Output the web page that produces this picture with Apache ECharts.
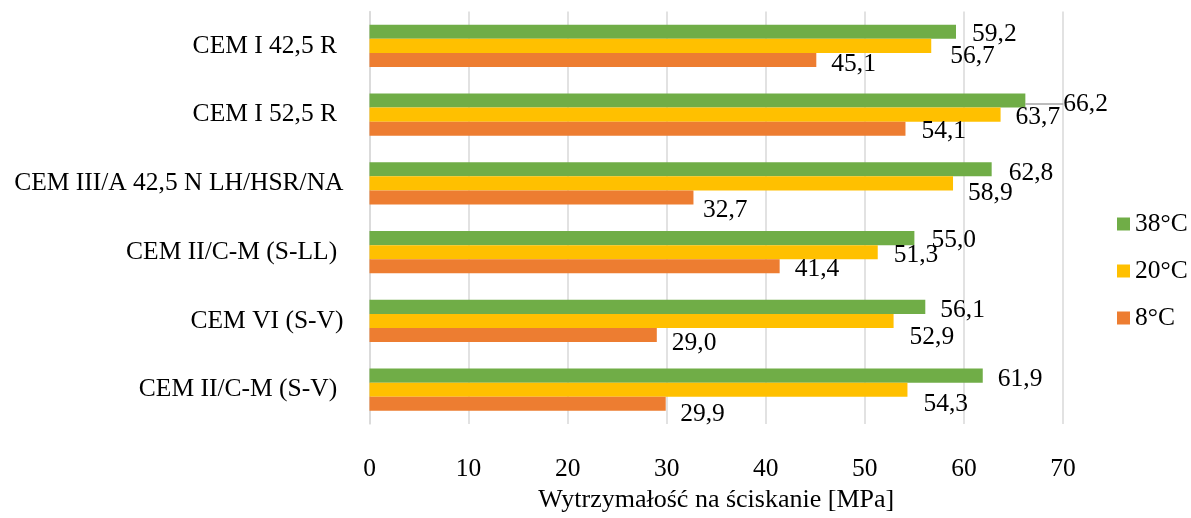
<!DOCTYPE html>
<html>
<head>
<meta charset="utf-8">
<script src="https://cdn.jsdelivr.net/npm/echarts@6/dist/echarts.min.js"></script>
<style>
  html, body { margin: 0; padding: 0; background: #fff; }
  #chart { width: 1191px; height: 518px; }
</style>
</head>
<body>
<div id="chart"></div>
<script>
// Cement types, top to bottom
const categories = [
  'CEM I 42,5 R ',
  'CEM I 52,5 R ',
  'CEM III/A 42,5 N LH/HSR/NA',
  'CEM II/C-M (S-LL) ',
  'CEM VI (S-V)',
  'CEM II/C-M (S-V) '
];

// Compressive strength [MPa] per curing temperature
const seriesNames = ['38°C', '20°C', '8°C'];
const values38 = [59.2, 66.2, 62.8, 55.0, 56.1, 61.9];
const values20 = [56.7, 63.7, 58.9, 51.3, 52.9, 54.3];
const values8  = [45.1, 54.1, 32.7, 41.4, 29.0, 29.9];

const xTicks = { min: 0, max: 70, interval: 10 };
const axisTitle = 'Wytrzymałość na ściskanie [MPa]';

// Label placement tweaks (pixel shifts from the bar end), one row per series
const labelShift = [
  [[16, 1], [38, 2], [17, 2], [17, 1], [15, 2], [15, 2]],
  [[19, 9], [15, 1.5], [15, 8], [16, 1.5], [16, 14.5], [16, 13.5]],
  [[15, 3], [16, 1], [9.5, 11], [15, 2], [15, 7], [14.5, 9]]
];
const labelBaseDy = 1.5;
// data points whose label is tied to its bar with a short guide line
const guided = [[0, 1]];

const colors = ['#70AD47', '#FFC000', '#ED7D31'];
const font = 'Liberation Serif, Times New Roman, serif';
const fontSize = 25.5;
const allValues = [values38, values20, values8];

const fmt = v => v.toFixed(1).replace('.', ',');

const series = allValues.map((vals, s) => ({
  name: seriesNames[s],
  type: 'bar',
  barGap: '0%',
  barCategoryGap: '38.5%',
  itemStyle: { color: colors[s] },
  data: vals.map((v, i) => {
    const item = { value: v };
    if (guided.some(g => g[0] === s && g[1] === i)) {
      item.labelLine = { show: true, lineStyle: { color: '#a6a6a6', width: 1.5 } };
    }
    return item;
  }),
  label: {
    show: true,
    position: 'right',
    distance: 0,
    fontFamily: font,
    fontSize: fontSize,
    color: '#000',
    formatter: p => fmt(p.value)
  },
  labelLine: { show: false },
  labelLayout: p => {
    const d = labelShift[s][p.dataIndex];
    return { dx: d[0], dy: d[1] + labelBaseDy };
  }
}));

const chart = echarts.init(document.getElementById('chart'));
chart.setOption({
  animation: false,
  backgroundColor: '#fff',
  textStyle: { fontFamily: font },
  grid: { left: 369.5, right: 128, top: 11.5, bottom: 80.5, containLabel: false },
  legend: {
    orient: 'vertical',
    left: 1112,
    top: 206,
    itemWidth: 13,
    itemHeight: 13,
    itemGap: 21,
    icon: 'rect',
    data: seriesNames,
    textStyle: { fontFamily: font, fontSize: fontSize, color: '#000', lineHeight: 25 }
  },
  xAxis: {
    type: 'value',
    min: xTicks.min,
    max: xTicks.max,
    interval: xTicks.interval,
    name: axisTitle,
    nameLocation: 'middle',
    nameGap: 62,
    nameTextStyle: { fontFamily: font, fontSize: 26, color: '#000' },
    axisLine: { show: false },
    axisTick: { show: false },
    axisLabel: { fontFamily: font, fontSize: fontSize, color: '#000', margin: 32 },
    splitLine: { show: true, lineStyle: { color: '#d9d9d9', width: 1.5 } }
  },
  yAxis: {
    type: 'category',
    inverse: true,
    data: categories,
    axisLine: { show: true, lineStyle: { color: '#d9d9d9', width: 1.5 } },
    axisTick: { show: false },
    axisLabel: { fontFamily: font, fontSize: fontSize, color: '#000', margin: 26, padding: [4, 0, 0, 0] }
  },
  series: series
});
</script>
</body>
</html>
